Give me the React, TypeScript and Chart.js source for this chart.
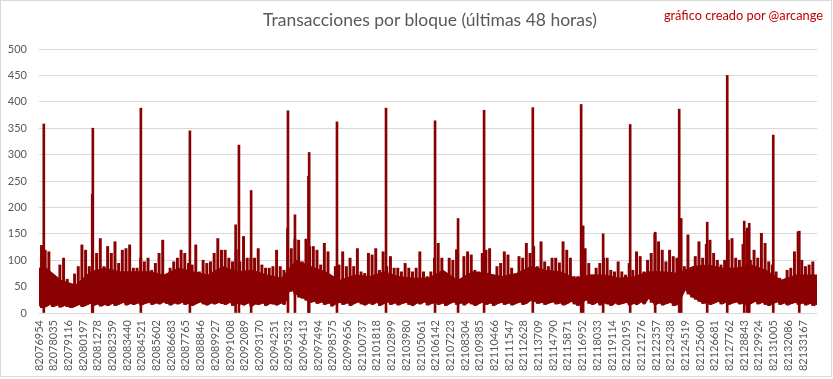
import { useEffect, useRef } from "react";
import { Chart, registerables } from "chart.js";

Chart.register(...registerables);

const TITLE = "Transacciones por bloque (últimas 48 horas)";
const CREDIT = "gráfico creado por @arcange";

const FIRST_BLOCK = 82076954;
const LAST_BLOCK = 82134200;
const BLOCKS_PER_POINT = 270.25;

const tickBlocks = [
  82076954, 82078035, 82079116, 82080197, 82081278, 82082359, 82083440, 82084521,
  82085602, 82086683, 82087765, 82088846, 82089927, 82091008, 82092089, 82093170,
  82094251, 82095332, 82096413, 82097494, 82098575, 82099656, 82100737, 82101818,
  82102899, 82103980, 82105061, 82106142, 82107223, 82108304, 82109385, 82110466,
  82111547, 82112628, 82113709, 82114790, 82115871, 82116952, 82118033, 82119114,
  82120195, 82121276, 82122357, 82123438, 82124519, 82125600, 82126681, 82127762,
  82128843, 82129924, 82131005, 82132086, 82133167,
];

// highest transactions per block in each group of ~270 blocks
const highTx = [
  74, 128, 119, 116, 66, 68, 91, 104, 64, 53,
  74, 88, 129, 119, 88, 78, 113, 141, 88, 126,
  113, 135, 94, 119, 122, 129, 85, 85, 104, 97,
  104, 81, 94, 113, 138, 69, 85, 97, 104, 119,
  113, 94, 91, 129, 78, 100, 94, 97, 113, 141,
  119, 119, 104, 97, 120, 97, 145, 104, 104, 104,
  122, 91, 85, 85, 88, 119, 88, 81, 160, 122,
  140, 138, 97, 140, 126, 126, 119, 91, 132, 116,
  62, 88, 91, 116, 88, 104, 88, 122, 78, 75,
  113, 110, 122, 81, 116, 88, 107, 85, 85, 78,
  94, 85, 78, 85, 116, 78, 69, 78, 104, 132,
  104, 62, 104, 100, 120, 56, 107, 116, 110, 81,
  78, 113, 119, 122, 69, 88, 94, 116, 110, 85,
  66, 107, 104, 132, 113, 126, 88, 135, 97, 88,
  104, 104, 95, 135, 119, 104, 69, 69, 140, 122,
  94, 72, 85, 94, 104, 104, 81, 78, 97, 78,
  72, 94, 81, 116, 107, 78, 100, 113, 150, 135,
  119, 97, 119, 107, 104, 138, 88, 148, 81, 107,
  135, 104, 130, 138, 113, 100, 91, 100, 138, 141,
  104, 100, 130, 155, 100, 119, 104, 151, 132, 97,
  91, 78, 66, 62, 81, 85, 116, 154, 100, 88,
  91, 97, 69,
];

// lowest transactions per block in each group of ~270 blocks
const lowTx = [
  14, 10, 12, 16, 12, 15, 11, 14, 12, 10,
  13, 16, 12, 15, 18, 14, 17, 13, 16, 14,
  18, 14, 17, 20, 15, 18, 16, 19, 15, 18,
  20, 16, 19, 17, 21, 18, 15, 19, 17, 20,
  16, 19, 14, 18, 21, 17, 15, 19, 17, 20,
  18, 16, 20, 14, 18, 17, 15, 19, 13, 17,
  16, 19, 14, 18, 17, 15, 19, 16, 40, 42,
  36, 30, 28, 24, 20, 22, 18, 21, 16, 19,
  13, 18, 20, 16, 19, 14, 18, 21, 17, 15,
  19, 16, 20, 14, 18, 21, 16, 19, 15, 18,
  20, 16, 14, 19, 17, 21, 15, 18, 20, 16,
  19, 14, 18, 21, 16, 19, 15, 20, 17, 14,
  18, 21, 16, 19, 14, 18, 20, 16, 19, 15,
  18, 21, 16, 19, 24, 22, 18, 20, 16, 19,
  21, 17, 19, 15, 18, 22, 17, 14, 20, 25,
  18, 16, 20, 15, 19, 17, 14, 19, 16, 18,
  20, 15, 18, 16, 21, 17, 28, 20, 16, 19,
  15, 18, 20, 14, 16, 30, 44, 36, 30, 26,
  22, 18, 20, 16, 19, 22, 17, 20, 16, 19,
  21, 17, 19, 15, 18, 22, 17, 20, 16, 14,
  18, 21, 16, 19, 15, 18, 20, 16, 19, 15,
  18, 14, 17,
];

// level under which nearly every block of a labelled interval lies (dense core of the series)
const coreTx = [
  85, 62, 53, 78, 85, 78, 78, 78, 72, 85,
  78, 72, 88, 78, 81, 72, 66, 100, 88, 78,
  62, 72, 69, 78, 69, 66, 66, 81, 62, 78,
  75, 69, 75, 88, 81, 78, 66, 72, 72, 66,
  69, 78, 78, 75, 88, 91, 85, 85, 91, 81,
  62, 72, 72,
];

// isolated single-block peaks
const spikeBlocks = [
  82077234, 82080797, 82080842, 82084376, 82087983, 82091348, 82091591, 82092489,
  82095199, 82095714, 82096708, 82096760, 82098806, 82102414, 82106022, 82107715,
  82109630, 82113215, 82116772, 82116919, 82118391, 82120379, 82122220, 82123987,
  82124134, 82126048, 82127521, 82128772, 82128993, 82129140, 82130908, 82132822,
];
const spikeTx = [
  358, 225, 350, 388, 345, 167, 318, 232,
  383, 186, 259, 304, 362, 388, 364, 179,
  384, 389, 395, 165, 150, 357, 153, 386,
  179, 172, 450, 174, 161, 170, 337, 155,
];

const RED = "#8B0000";
const GRAY = "#595959";
const GRID = "#d9d9d9";
const FONT = "Lato, 'Open Sans', sans-serif";

export default function App() {
  const canvasRef = useRef<HTMLCanvasElement | null>(null);

  useEffect(() => {
    document.body.style.margin = "0";
    const canvas = canvasRef.current;
    if (!canvas) return;
    const groupBlock = (i: number) => FIRST_BLOCK + i * BLOCKS_PER_POINT;
    const corePoints = [
      { x: FIRST_BLOCK, y: coreTx[0] },
      ...coreTx.map((v, k) => ({ x: tickBlocks[k] + 540, y: v })),
      { x: LAST_BLOCK, y: coreTx[coreTx.length - 1] },
    ];
    const lowPoints = lowTx.map((v, i) => ({ x: groupBlock(i), y: v }));
    const rangeBars = highTx.map((h, i) => ({ x: groupBlock(i), y: [lowTx[i], h] }));
    const chart = new Chart(canvas, {
      type: "line",
      data: {
        datasets: [
          {
            type: "line",
            label: "núcleo",
            data: corePoints,
            borderColor: RED,
            backgroundColor: RED,
            borderWidth: 1,
            pointRadius: 0,
            tension: 0,
            fill: "+1",
            xAxisID: "x",
          },
          {
            type: "line",
            label: "mínimo",
            data: lowPoints,
            borderColor: RED,
            backgroundColor: RED,
            borderWidth: 1,
            pointRadius: 0,
            tension: 0,
            fill: false,
            xAxisID: "x",
          },
          {
            type: "bar",
            label: "rango",
            data: rangeBars,
            backgroundColor: RED,
            borderWidth: 0,
            barThickness: 2.3,
            xAxisID: "x",
          },
          {
            type: "bar",
            label: "picos",
            data: spikeBlocks.map((b, i) => ({ x: b, y: spikeTx[i] })),
            backgroundColor: RED,
            borderWidth: 0,
            barThickness: 2,
            xAxisID: "x2",
          },
        ],
      },
      options: {
        responsive: false,
        animation: false,
        devicePixelRatio: 1,
        events: [],
        layout: { padding: { top: 49, right: 16, bottom: 0, left: 0 } },
        plugins: {
          legend: { display: false },
          title: { display: false },
          tooltip: { enabled: false },
        },
        scales: {
          x: {
            type: "linear",
            min: FIRST_BLOCK,
            max: LAST_BLOCK,
            offset: false,
            grid: { display: false, drawTicks: false, offset: false },
            border: { display: false },
            afterBuildTicks: (s: any) => {
              s.ticks = tickBlocks.map((v) => ({ value: v }));
            },
            afterFit: (s: any) => {
              s.height = 66;
            },
            ticks: {
              autoSkip: false,
              minRotation: 90,
              maxRotation: 90,
              padding: 7,
              color: GRAY,
              font: { family: FONT, size: 11 },
              callback: (v: any) => String(v),
            },
          },
          x2: {
            type: "linear",
            position: "bottom",
            min: FIRST_BLOCK,
            max: LAST_BLOCK,
            offset: false,
            display: false,
            grid: { display: false, offset: false },
          },
          y: {
            min: 0,
            max: 500,
            grid: { color: GRID, drawTicks: false },
            border: { display: false },
            afterFit: (s: any) => {
              s.width = 39;
            },
            ticks: {
              stepSize: 50,
              padding: 12,
              color: GRAY,
              font: { family: FONT, size: 11 },
            },
          },
        },
      },
    } as any);
    return () => chart.destroy();
  }, []);

  return (
    <div style={{ position: "relative", width: 833, height: 379, background: "#fff" }}>
      <canvas ref={canvasRef} width={833} height={379} style={{ position: "absolute", left: 0, top: 0, display: "block" }} />
      <div
        style={{
          position: "absolute",
          left: 0,
          top: 0,
          width: 832,
          height: 377,
          boxSizing: "border-box",
          border: "1px solid #d9d9d9",
          pointerEvents: "none",
        }}
      />
      <div
        style={{
          position: "absolute",
          left: 0,
          width: 860,
          top: 9,
          textAlign: "center",
          fontFamily: FONT,
          fontSize: 17.5,
          lineHeight: "22px",
          color: GRAY,
          whiteSpace: "nowrap",
        }}
      >
        {TITLE}
      </div>
      <div
        style={{
          position: "absolute",
          right: 10,
          top: 8,
          fontFamily: FONT,
          fontSize: 12.8,
          lineHeight: "15px",
          color: "#C00000",
          whiteSpace: "nowrap",
        }}
      >
        {CREDIT}
      </div>
    </div>
  );
}
